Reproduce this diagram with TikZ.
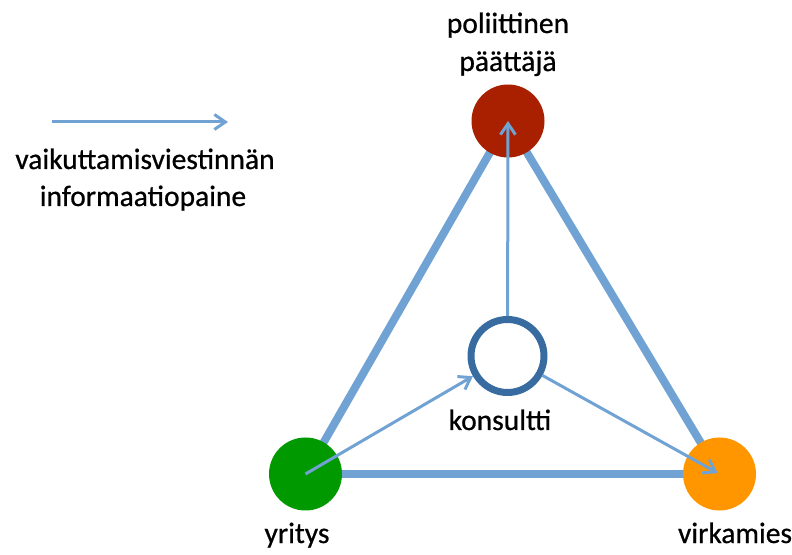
\documentclass[tikz,border=0pt]{standalone}
\usepackage{fontspec}
\setmainfont{Carlito}
\newfontfamily\labelfont{Carlito}[FakeBold=0.7]
\usetikzlibrary{arrows.meta,backgrounds}

\definecolor{linkblue}{RGB}{112,163,212}
\definecolor{ringblue}{RGB}{56,108,160}
\definecolor{polired}{RGB}{168,32,0}
\definecolor{firmgreen}{RGB}{0,153,0}
\definecolor{officeorange}{RGB}{255,150,0}

\tikzset{
  x=1pt, y=1pt,
  actor/.style={circle, minimum size=73pt, inner sep=0pt},
  consultant/.style={circle, minimum size=73pt, inner sep=0pt, draw=ringblue, line width=7pt, fill=white},
  bond/.style={draw=linkblue, line width=8pt},
  push/.style={draw=linkblue, line width=3pt, -{Straight Barb[length=11pt,width=15pt]}},
  lbl/.style={anchor=base, inner sep=0pt, font=\labelfont\fontsize{29.5}{35}\selectfont},
}

\begin{document}
\begin{tikzpicture}
  \useasboundingbox (0,0) rectangle (792,554);

  % the four parties
  \node[actor, fill=polired]      (pol)  at (508,433) {};
  \node[actor, fill=firmgreen]    (firm) at (305.5,80) {};
  \node[actor, fill=officeorange] (off)  at (719.5,80) {};
  \node[consultant]               (kons) at (507.5,198) {};

  % triangle of direct relations, behind the circles
  \begin{scope}[on background layer]
    \draw[bond] (firm.center) -- (pol.center);
    \draw[bond] (pol.center) -- (off.center);
    \draw[bond] (firm.center) -- (off.center);
  \end{scope}

  % information pressure through the consultant
  \draw[push] (kons) -- (pol.center);
  \draw[push] (firm.center) -- (kons);
  \draw[push, shorten >=2pt] (kons) -- (off.center);

  % legend
  \coordinate (legA) at (52,432);
  \coordinate (legB) at (228,432);
  \draw[push] (legA) -- (legB);
  \node[lbl] (leg1) at (145,385) {vaikuttamisviestinnän};
  \node[lbl] (leg2) at (143,348) {informaatiopaine};

  % labels
  \node[lbl] (polA) at (508,521) {poliittinen};
  \node[lbl] (polB) at (508,483) {päättäjä};
  \node[lbl] (konsL) at (500,124) {konsultti};
  \node[lbl] (firmL) at (297,11) {yritys};
  \node[lbl] (offL) at (735,11) {virkamies};
\end{tikzpicture}
\end{document}
